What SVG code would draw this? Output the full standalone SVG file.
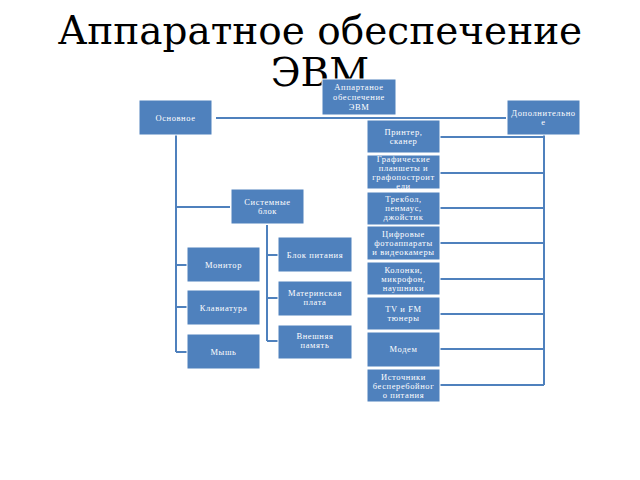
<svg xmlns="http://www.w3.org/2000/svg" width="640" height="480" viewBox="0 0 640 480">
<style>
.title{font-family:"DejaVu Serif","Liberation Serif",serif;font-size:39px;fill:#000;text-anchor:middle}
.box rect{fill:#4f81bd;stroke:#fff;stroke-width:1}
.box text{font-family:"Liberation Serif","DejaVu Serif",serif;font-size:8.5px;fill:#fff;text-anchor:middle;letter-spacing:0.6px}
.conn{fill:none;stroke:#4f81bd;stroke-width:2}
</style>
<rect width="640" height="480" fill="#fff"/>
<text class="title" x="320" y="44">Аппаратное обеспечение</text>
<text class="title" x="320" y="86">ЭВМ</text>
<g id="connectors" class="conn">
<path d="M216 118 H506"/>
<path d="M176 135 V352 M176 207 H230 M176 265 H187 M176 307 H187 M176 352 H187"/>
<path d="M267 225 V341 M267 255 H278 M267 298 H278 M267 341 H278"/>
<path d="M544 135 V385 M440 137 H544 M440 173 H544 M440 208 H544 M440 243 H544 M440 279 H544 M440 314 H544 M440 349 H544 M440 385 H544"/>
</g>
<g id="n-root" class="box"><rect x="322" y="79" width="74" height="36"/><text x="359" y="90">Аппартаное</text><text x="359" y="100">обеспечение</text><text x="359" y="110">ЭВМ</text></g>
<g id="n-osn" class="box"><rect x="139" y="100" width="73" height="35"/><text x="175.5" y="120.5">Основное</text></g>
<g id="n-dop" class="box"><rect x="507" y="100" width="73" height="35"/><text x="543.5" y="116">Дополнительно</text><text x="543.5" y="125">е</text></g>
<g id="n-print" class="box"><rect x="367" y="120" width="73" height="33"/><text x="403.5" y="135">Принтер,</text><text x="403.5" y="144">сканер</text></g>
<g id="n-graf" class="box"><rect x="367" y="155" width="73" height="34"/><text x="403.5" y="162">Графические</text><text x="403.5" y="171">планшеты и</text><text x="403.5" y="180">графопостроит</text><text x="403.5" y="189">ели</text></g>
<g id="n-trek" class="box"><rect x="367" y="192" width="73" height="33"/><text x="403.5" y="202">Трекбол,</text><text x="403.5" y="211">пенмаус,</text><text x="403.5" y="220">джойстик</text></g>
<g id="n-foto" class="box"><rect x="367" y="226" width="73" height="34"/><text x="403.5" y="237">Цифровые</text><text x="403.5" y="246">фотоаппараты</text><text x="403.5" y="255">и видеокамеры</text></g>
<g id="n-kol" class="box"><rect x="367" y="262" width="73" height="33"/><text x="403.5" y="273">Колонки,</text><text x="403.5" y="282">микрофон,</text><text x="403.5" y="291">наушники</text></g>
<g id="n-tv" class="box"><rect x="367" y="297" width="73" height="33"/><text x="403.5" y="312">TV и FM</text><text x="403.5" y="321">тюнеры</text></g>
<g id="n-modem" class="box"><rect x="367" y="332" width="73" height="35"/><text x="403.5" y="352">Модем</text></g>
<g id="n-ups" class="box"><rect x="367" y="369" width="73" height="33"/><text x="403.5" y="380">Источники</text><text x="403.5" y="389">бесперебойног</text><text x="403.5" y="398">о питания</text></g>
<g id="n-sys" class="box"><rect x="231" y="189" width="73" height="35"/><text x="267.5" y="205">Системные</text><text x="267.5" y="214">блок</text></g>
<g id="n-mon" class="box"><rect x="187" y="247" width="73" height="35"/><text x="223.5" y="267.5">Монитор</text></g>
<g id="n-klav" class="box"><rect x="187" y="290" width="73" height="35"/><text x="223.5" y="310.5">Клавиатура</text></g>
<g id="n-mysh" class="box"><rect x="187" y="334" width="73" height="35"/><text x="223.5" y="354.5">Мышь</text></g>
<g id="n-bp" class="box"><rect x="278" y="237" width="74" height="35"/><text x="315" y="257.5">Блок питания</text></g>
<g id="n-mat" class="box"><rect x="278" y="281" width="74" height="35"/><text x="315" y="296">Материнская</text><text x="315" y="305">плата</text></g>
<g id="n-vp" class="box"><rect x="278" y="325" width="74" height="34"/><text x="315" y="339">Внешняя</text><text x="315" y="348">память</text></g>
</svg>
